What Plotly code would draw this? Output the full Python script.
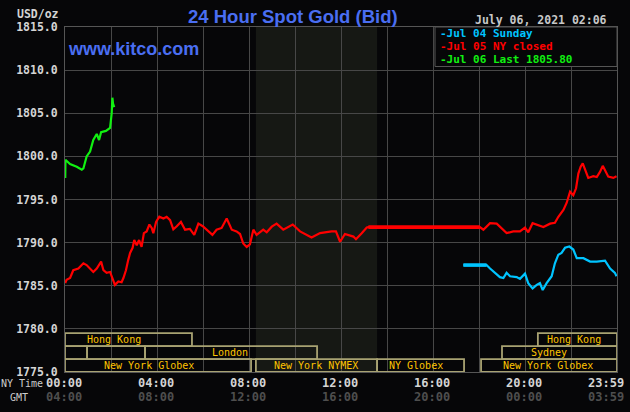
import plotly.graph_objects as go

# ---------------- data ----------------
# hours after 00:00 NY time, price USD/oz
red_t = [0.01, 0.07, 0.22, 0.36, 0.58, 0.80, 0.94, 1.09, 1.23, 1.38, 1.57, 1.67, 1.81, 1.96, 2.07, 2.17,
         2.32, 2.46, 2.54, 2.65, 2.75, 2.83, 2.94, 3.01, 3.12, 3.22, 3.33, 3.43, 3.55, 3.67, 3.77, 3.84,
         3.96, 4.10, 4.28, 4.42, 4.57, 4.71, 4.86, 5.04, 5.22, 5.43, 5.62, 5.80, 5.99, 6.13, 6.23, 6.41,
         6.59, 6.81, 7.03, 7.25, 7.46, 7.61, 7.75, 7.90, 8.04, 8.19, 8.33, 8.62, 8.77, 8.99, 9.20, 9.49,
         9.90, 10.22, 10.72, 11.09, 11.59, 11.78, 11.96, 12.17, 12.54, 12.65, 12.90, 13.12, 13.19, 18.04,
         18.19, 18.48, 18.77, 19.06, 19.20, 19.49, 19.78, 20.00, 20.14, 20.33, 20.65, 20.80, 21.09, 21.30,
         21.45, 21.67, 21.81, 21.96, 22.10, 22.22, 22.32, 22.42, 22.51, 22.61, 22.75, 22.97, 23.12, 23.26,
         23.38, 23.48, 23.62, 23.84, 23.98]
red_v = [1785.3, 1785.7, 1785.9, 1786.8, 1787.0, 1787.6, 1787.4, 1787.0, 1786.6, 1787.0, 1787.8, 1786.8,
         1786.5, 1786.6, 1785.7, 1785.1, 1785.5, 1785.4, 1785.9, 1786.8, 1788.0, 1788.8, 1789.4, 1790.3,
         1789.7, 1790.3, 1789.5, 1791.1, 1791.3, 1792.1, 1791.7, 1791.1, 1792.4, 1793.0, 1792.8, 1793.0,
         1792.6, 1791.55, 1791.9, 1792.4, 1791.5, 1791.6, 1790.9, 1792.2, 1791.9, 1791.6, 1791.3, 1790.9,
         1791.5, 1791.7, 1792.8, 1791.5, 1791.3, 1791.0, 1789.9, 1789.5, 1789.8, 1791.5, 1790.9, 1791.5,
         1791.2, 1791.85, 1792.2, 1791.5, 1792.1, 1791.3, 1790.6, 1791.1, 1791.3, 1791.3, 1790.1, 1791.0,
         1790.7, 1790.4, 1791.1, 1791.75, 1791.8, 1791.8, 1791.5, 1792.25, 1792.2, 1791.5, 1791.1, 1791.3,
         1791.3, 1791.75, 1791.2, 1792.25, 1791.9, 1791.8, 1792.2, 1792.3, 1793.0, 1793.8, 1794.6, 1795.9,
         1795.5, 1796.3, 1798.0, 1798.8, 1799.2, 1798.4, 1797.5, 1797.7, 1797.6, 1798.2, 1798.9, 1798.4,
         1797.65, 1797.5, 1797.7]
red_flat = (76, 78)  # index slice of the closed (flat) period

cyan_t = [17.32, 18.33, 18.48, 18.77, 18.91, 19.06, 19.20, 19.35, 19.64, 19.78, 20.00, 20.14, 20.33, 20.51,
          20.65, 20.77, 20.94, 21.16, 21.30, 21.45, 21.59, 21.74, 21.93, 22.10, 22.25, 22.54, 22.83, 23.12,
          23.48, 23.70, 23.91, 23.98]
cyan_v = [1787.4, 1787.4, 1787.0, 1786.3, 1786.0, 1785.9, 1786.5, 1786.1, 1786.0, 1785.8, 1786.4, 1785.3,
          1784.7, 1785.1, 1785.3, 1784.5, 1785.3, 1786.1, 1787.6, 1788.6, 1788.8, 1789.4, 1789.55, 1789.2,
          1788.2, 1788.2, 1787.8, 1787.8, 1787.9, 1787.0, 1786.5, 1786.1]
cyan_flat = (0, 2)

green_t = [0.01, 0.02, 0.10, 0.22, 0.51, 0.73, 0.80, 0.94, 1.09, 1.23, 1.38, 1.48, 1.57, 1.78, 1.96, 2.03,
           2.06, 2.09, 2.14]
green_v = [1797.5, 1799.6, 1799.4, 1799.1, 1798.8, 1798.45, 1798.6, 1800.0, 1800.55, 1801.9, 1802.6, 1801.9,
           1802.8, 1802.95, 1803.3, 1805.0, 1806.8, 1806.1, 1805.7]

y_ticks = [1775, 1780, 1785, 1790, 1795, 1800, 1805, 1810, 1815]
ny_ticks = [0, 4, 8, 12, 16, 20, 23.983]
ny_labels = ["00:00", "04:00", "08:00", "12:00", "16:00", "20:00", "23:59"]
gmt_labels = ["04:00", "08:00", "12:00", "16:00", "20:00", "00:00", "03:59"]

legend_labels = ["-Jul 04 Sunday", "-Jul 05 NY closed", "-Jul 06 Last 1805.80"]

nymex_session = (8.30, 13.57)
# (start hour, end hour, row, label, label hour)
sessions = [
    (0.0, 5.52, 1, "Hong Kong", 2.15),
    (20.56, 24.0, 1, "Hong Kong", 22.11),
    (0.0, 0.96, 2, "", None),
    (0.96, 3.48, 2, "", None),
    (3.48, 10.96, 2, "London", 7.17),
    (19.0, 24.0, 2, "Sydney", 21.04),
    (0.0, 8.09, 3, "New York Globex", 3.67),
    (8.30, 13.57, 3, "New York NYMEX", 10.9),
    (13.57, 17.35, 3, "NY Globex", 15.24),
    (18.09, 24.0, 3, "New York Globex", 21.02),
]
row_bounds = {1: (1778.0, 1779.5), 2: (1776.5, 1778.0), 3: (1775.0, 1776.5)}

# ---------------- style ----------------
BG = "#060608"
GRID = "#474747"
RED = "#ff0000"
CYAN = "#00c4ff"
GREEN = "#11f011"
MONO = "DejaVu Sans Mono"
BOXLINE = "#a8a272"
BOXTEXT = "#ffc400"

fig = go.Figure()

fig.add_trace(go.Scatter(x=red_t, y=red_v, mode="lines", line=dict(color=RED, width=2.2)))
fig.add_trace(go.Scatter(x=red_t[red_flat[0]:red_flat[1]], y=red_v[red_flat[0]:red_flat[1]],
                         mode="lines", line=dict(color=RED, width=3.6)))
fig.add_trace(go.Scatter(x=cyan_t, y=cyan_v, mode="lines", line=dict(color=CYAN, width=2.2)))
fig.add_trace(go.Scatter(x=cyan_t[cyan_flat[0]:cyan_flat[1]], y=cyan_v[cyan_flat[0]:cyan_flat[1]],
                         mode="lines", line=dict(color=CYAN, width=3.6)))
fig.add_trace(go.Scatter(x=green_t, y=green_v, mode="lines", line=dict(color=GREEN, width=2.2)))

shapes = []
shapes.append(dict(type="rect", xref="x", yref="paper", x0=nymex_session[0], x1=nymex_session[1],
                   y0=0, y1=1, fillcolor="#161814", line=dict(width=0), layer="below"))
annotations = []
for (s, e, row, label, lx) in sessions:
    y0, y1 = row_bounds[row]
    shapes.append(dict(type="rect", xref="x", yref="y", x0=s, x1=e, y0=y0, y1=y1,
                       fillcolor="rgba(0,0,0,0)", line=dict(color=BOXLINE, width=1.8), layer="above"))
    if label:
        annotations.append(dict(x=lx, y=(y0 + y1) / 2, xref="x", yref="y", text=label, showarrow=False,
                                font=dict(family=MONO, size=10, color=BOXTEXT), xanchor="center",
                                yanchor="middle", borderpad=0))

# legend box
shapes.append(dict(type="rect", xref="paper", yref="paper", x0=(435 - 65) / 552, x1=1.0,
                   y0=(372 - 66.5) / 345, y1=1.0, fillcolor=BG, line=dict(color="#555555", width=1),
                   layer="above"))
leg_colors = [CYAN, RED, GREEN]
leg_y = [33.5, 46.5, 59.5]
for lab, c, yy in zip(legend_labels, leg_colors, leg_y):
    annotations.append(dict(x=(439 - 65) / 552, y=(372 - yy) / 345, xref="paper", yref="paper", text=lab,
                            showarrow=False, xanchor="left", yanchor="middle", borderpad=0,
                            font=dict(family=MONO, size=11, color=c, weight="bold")))

# x labels
for i, (t, a, b) in enumerate(zip(ny_ticks, ny_labels, gmt_labels)):
    xs = -1.5 if i == 0 else (-11 if i == len(ny_ticks) - 1 else -1)
    annotations.append(dict(x=t, y=0, xref="x", yref="paper", text=a, showarrow=False, xanchor="center",
                            yanchor="middle", yshift=-11, xshift=xs, borderpad=0,
                            font=dict(family=MONO, size=12, color="#d4d4d4", weight="bold")))
    annotations.append(dict(x=t, y=0, xref="x", yref="paper", text=b, showarrow=False, xanchor="center",
                            yanchor="middle", yshift=-25, xshift=xs, borderpad=0,
                            font=dict(family=MONO, size=12, color="#4e4e4e", weight="bold")))

annotations.append(dict(x=(0 - 65) / 552, y=0, xref="paper", yref="paper", text="NY Time", showarrow=False,
                        xanchor="left", yanchor="middle", yshift=-11, borderpad=0,
                        font=dict(family=MONO, size=10, color="#cccccc")))
annotations.append(dict(x=(9 - 65) / 552, y=0, xref="paper", yref="paper", text="GMT", showarrow=False,
                        xanchor="left", yanchor="middle", yshift=-25, borderpad=0,
                        font=dict(family=MONO, size=10, color="#cccccc")))

annotations.append(dict(x=(61 - 65) / 552, y=1 + (27 - 14) / 345, xref="paper", yref="paper", text="USD/oz",
                        showarrow=False, xanchor="right", yanchor="middle",
                        font=dict(family=MONO, size=11.5, color="#d4d4d4", weight="bold")))
annotations.append(dict(x=(609 - 65) / 552, y=1 + (27 - 20) / 345, xref="paper", yref="paper",
                        text="July 06, 2021 02:06", showarrow=False, xanchor="right", yanchor="middle",
                        font=dict(family=MONO, size=11.5, color="#c8c8c8", weight="bold")))
annotations.append(dict(x=(293 - 65) / 552, y=1 + (27 - 16) / 345, xref="paper", yref="paper",
                        text="24 Hour Spot Gold (Bid)", showarrow=False, xanchor="center", yanchor="middle",
                        font=dict(family="Liberation Sans", size=18.5, color="#4a6ef2", weight="bold")))
annotations.append(dict(x=(66 - 65) / 552, y=(372 - 48.5) / 345, xref="paper", yref="paper",
                        text="www.kitco.com", showarrow=False, xanchor="left", yanchor="middle",
                        font=dict(family="Liberation Sans", size=18, color="#4a6ef2", weight="bold")))

fig.update_layout(
    width=630, height=412,
    margin=dict(l=65, r=13, t=27, b=40),
    paper_bgcolor=BG, plot_bgcolor=BG,
    showlegend=False,
    shapes=shapes, annotations=annotations,
    xaxis=dict(range=[0, 24], tickvals=list(range(0, 25, 2)), showticklabels=False, showgrid=True,
               gridcolor=GRID, gridwidth=1, zeroline=False, showline=True, mirror=True,
               linecolor="#555555", linewidth=1, ticks=""),
    yaxis=dict(range=[1775, 1815], tickvals=y_ticks, ticktext=[f"{v:.1f}" for v in y_ticks],
               showgrid=True, gridcolor=GRID, gridwidth=1, zeroline=False, showline=True, mirror=True,
               linecolor="#555555", linewidth=1, ticks="", ticklabelstandoff=4,
               tickfont=dict(family=MONO, size=11.5, color="#d4d4d4", weight="bold")),
)

fig.write_html("out.html")
